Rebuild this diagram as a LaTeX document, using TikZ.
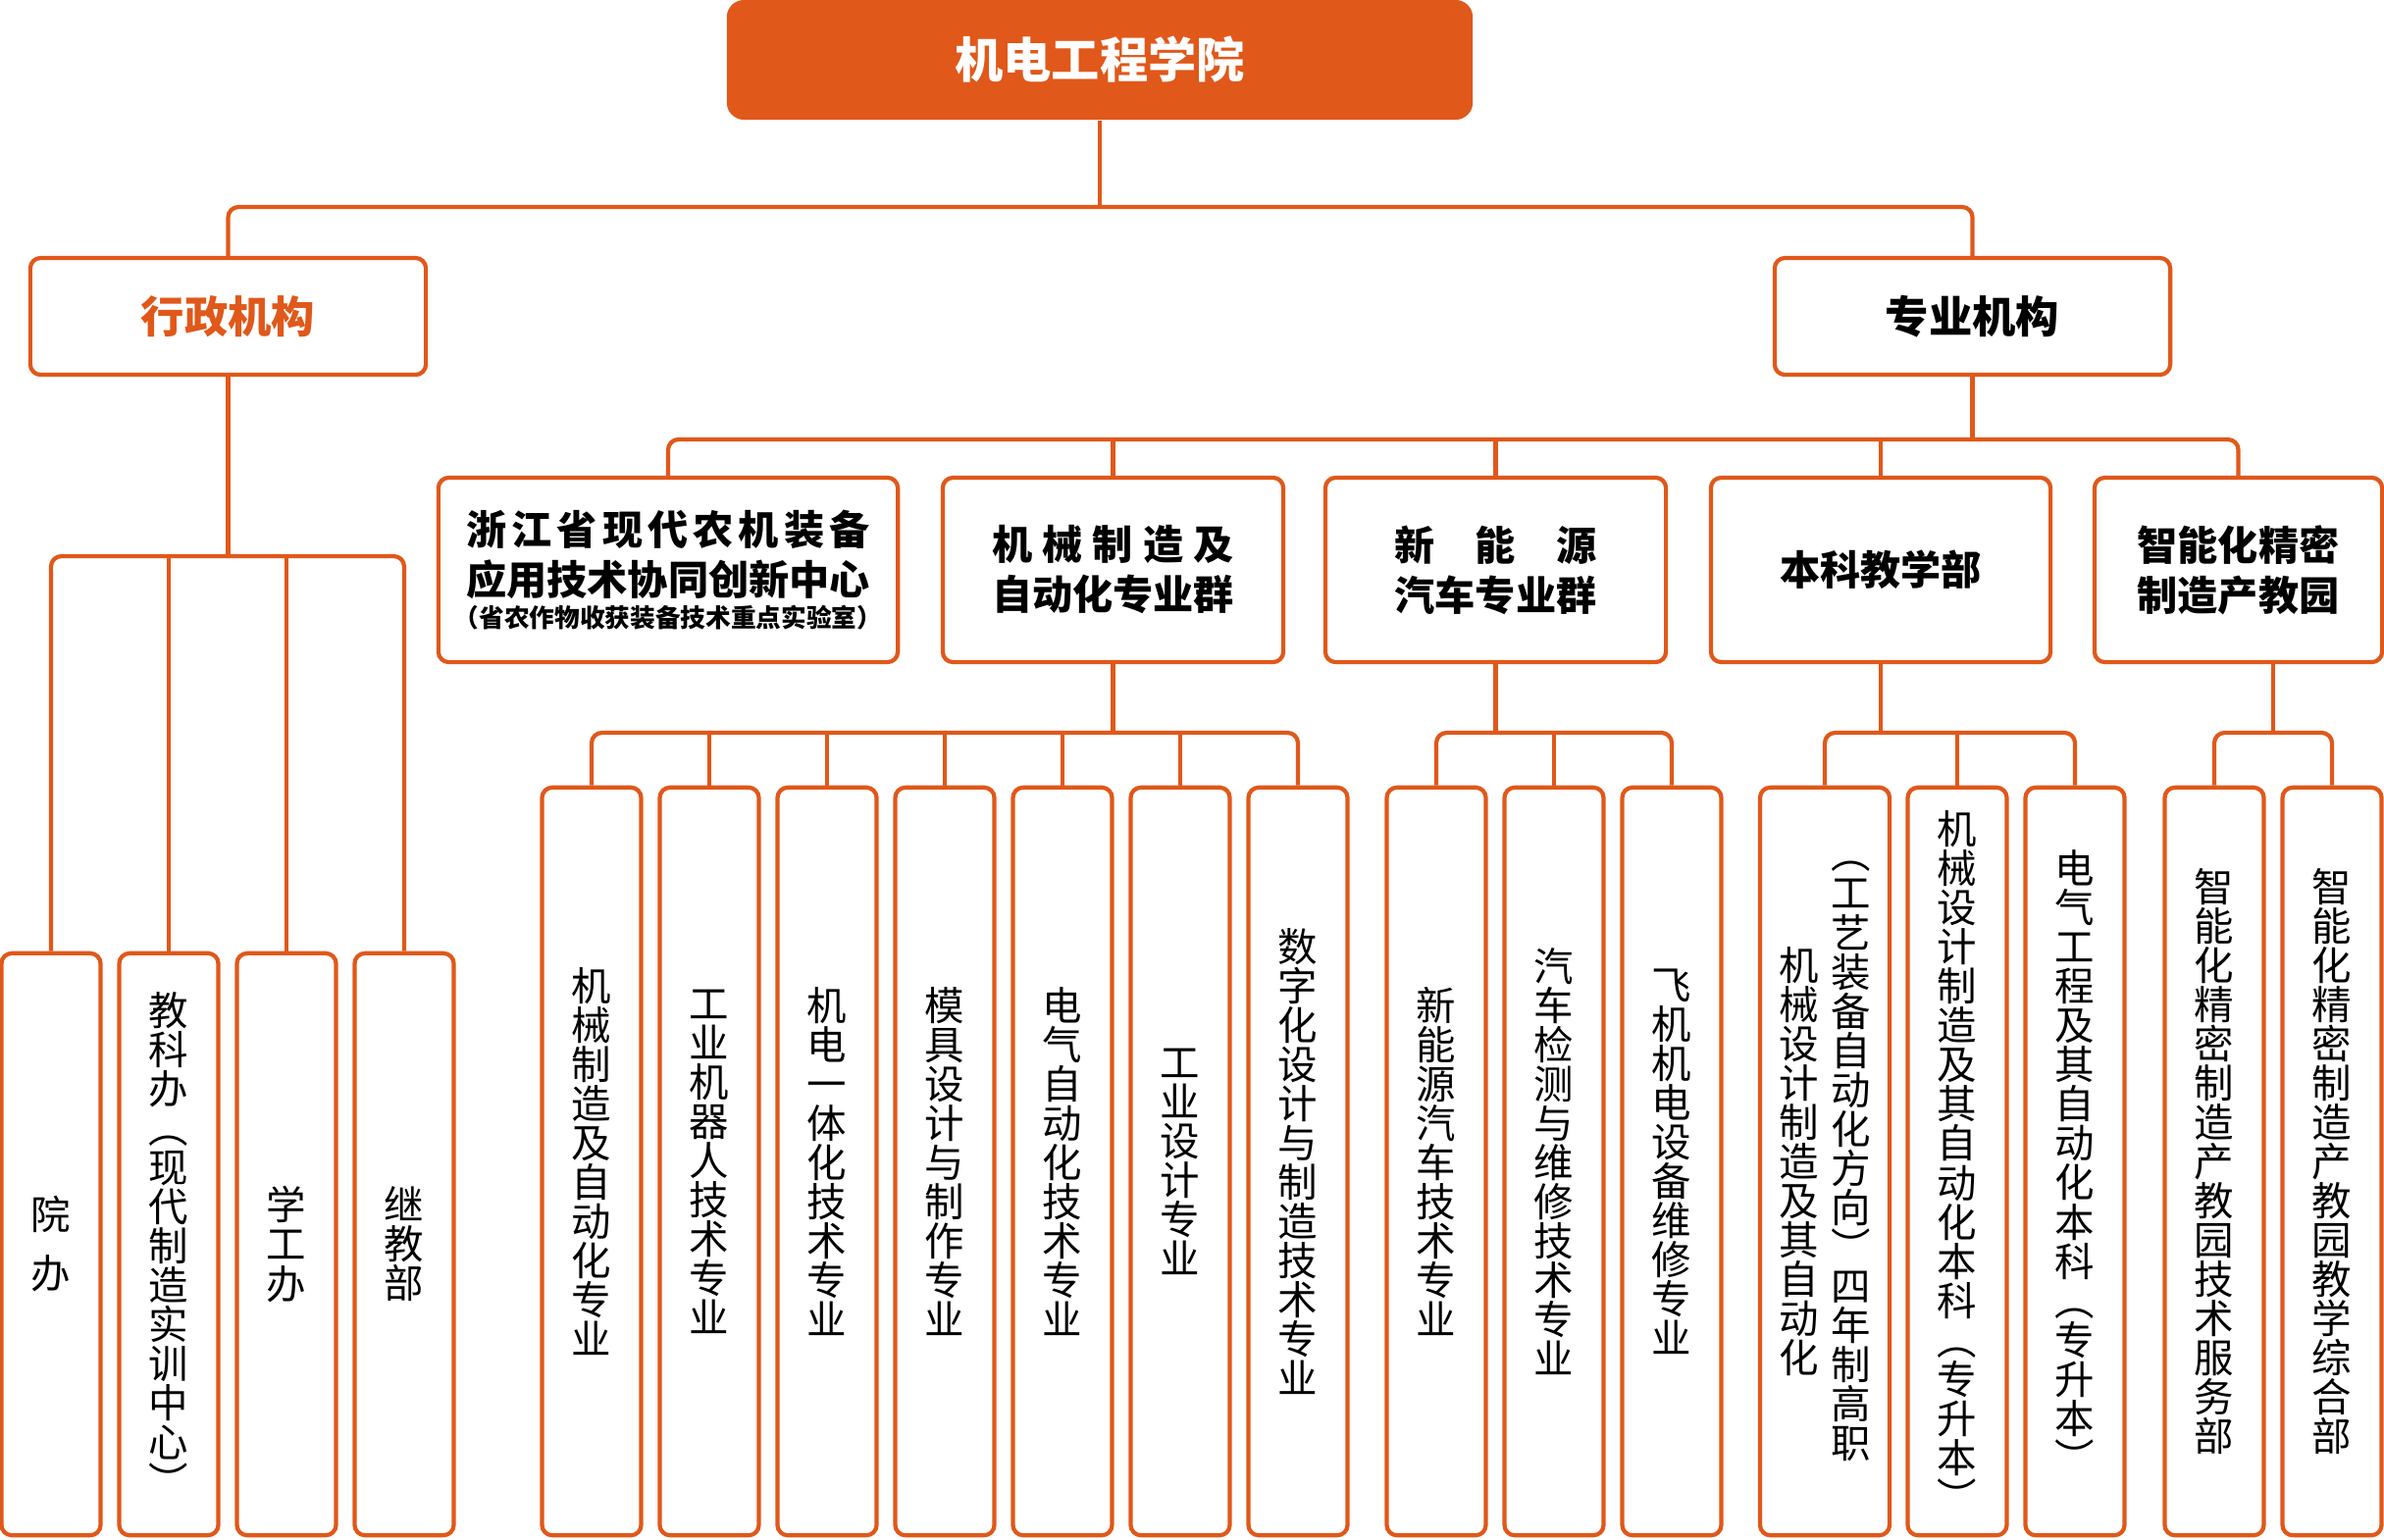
\documentclass[tikz,border=0pt]{standalone}
\usepackage{fontspec}
\setmainfont{Noto Sans CJK SC}
\usepackage{xcolor}
\definecolor{jdorange}{RGB}{224,88,26}

\def\vertextloop#1{\ifx\relax#1\else\hbox to 1em{\hss#1\hss}\expandafter\vertextloop\fi}
\newcommand\vertext[2][0.40cm]{$\vcenter{\baselineskip=#1\relax\lineskiplimit=-\maxdimen\vertextloop#2\relax}$}
\def\spreadloop#1{\ifx\relax#1\unskip\else#1\hfill\expandafter\spreadloop\fi}
\newcommand\spreadline[2]{\makebox[#1][s]{\spreadloop#2\relax}}

\begin{document}
\begin{tikzpicture}[x=0.01cm,y=-0.01cm,
    conn/.style={draw=jdorange,line width=1.2pt,rounded corners=3pt},
    box/.style={draw=jdorange,line width=1.2pt,rounded corners=3pt,inner sep=0pt,fill=white},
    headbox/.style={fill=jdorange,rounded corners=5pt,minimum width=7.6cm,minimum height=1.22cm,text=white,font=\fontsize{14}{16}\selectfont\bfseries},
    catbox/.style={box,minimum width=4.03cm,minimum height=1.19cm,font=\fontsize{12.6}{15}\selectfont\bfseries},
    midbox/.style={box,minimum height=1.88cm,align=center,font=\fontsize{11.7}{14.5}\selectfont\bfseries},
    leaf/.style={box,minimum width=1.01cm,minimum height=7.62cm,font=\fontsize{11.5}{13}\selectfont},
    adleaf/.style={leaf,minimum height=5.93cm}]
    \useasboundingbox (0,0) rectangle (2430,1569);

    \node[headbox] (top) at (1121,61) {机电工程学院};
    \node[catbox,text=jdorange] (admin) at (232.5,322.5) {行政机构};
    \node[catbox] (major) at (2010.5,322.5) {专业机构};

    \node[midbox,minimum width=4.68cm] (lab) at (681,581) {\spreadline{10em}{浙江省现代农机装备}\\应用技术协同创新中心\\[-0.18cm]{\fontsize{7.3}{8}\selectfont （省农作物收获装备技术重点实验室）}};
    \node[midbox,minimum width=3.47cm] (mech) at (1134.5,581) {\spreadline{6em}{机械制造及}\\自动化专业群};
    \node[midbox,minimum width=3.47cm] (nev) at (1524.5,581) {\spreadline{5em}{新能源}\\汽车专业群};
    \node[midbox,minimum width=3.46cm] (ug) at (1917,581) {本科教学部};
    \node[midbox,minimum width=2.93cm] (park) at (2281.5,581) {智能化精密\\制造产教园};

    \node[adleaf] (a1) at (52,1268.5) {\vertext[0.6cm]{院办}};
    \node[adleaf] (a2) at (172,1268.5) {\vertext{教科办︵现代制造实训中心︶}};
    \node[adleaf] (a3) at (292,1268.5) {\vertext{学工办}};
    \node[adleaf] (a4) at (412,1268.5) {\vertext{继教部}};

    \node[leaf] (m1) at (603,1184) {\vertext{机械制造及自动化专业}};
    \node[leaf] (m2) at (723,1184) {\vertext{工业机器人技术专业}};
    \node[leaf] (m3) at (843,1184) {\vertext{机电一体化技术专业}};
    \node[leaf] (m4) at (963,1184) {\vertext{模具设计与制作专业}};
    \node[leaf] (m5) at (1083,1184) {\vertext{电气自动化技术专业}};
    \node[leaf] (m6) at (1203,1184) {\vertext{工业设计专业}};
    \node[leaf] (m7) at (1323,1184) {\vertext{数字化设计与制造技术专业}};

    \node[leaf] (n1) at (1464,1184) {\vertext{新能源汽车技术专业}};
    \node[leaf] (n2) at (1584,1184) {\vertext{汽车检测与维修技术专业}};
    \node[leaf] (n3) at (1704,1184) {\vertext{飞机机电设备维修专业}};

    \node[leaf,minimum width=1.32cm] (u1) at (1860,1184) {\vertext{机械设计制造及其自动化}\hspace{0.13cm}\vertext{︵工艺装备自动化方向︶四年制高职}};
    \node[leaf] (u2) at (1995,1184) {\vertext{机械设计制造及其自动化本科︵专升本︶}};
    \node[leaf] (u3) at (2115,1184) {\vertext{电气工程及其自动化本科︵专升本︶}};

    \node[leaf] (p1) at (2257,1184) {\vertext{智能化精密制造产教园技术服务部}};
    \node[leaf] (p2) at (2377,1184) {\vertext{智能化精密制造产教园教学综合部}};

    \coordinate (bus0) at (0,211);
    \coordinate (bus1) at (0,567);
    \coordinate (bus2) at (0,448);
    \coordinate (bus3) at (0,747);

    \draw[conn] (top.south) -- (top.south |- bus0);
    \draw[conn] (admin.north) |- (major.north |- bus0) -- (major.north);

    \draw[conn] (admin.south) -- (admin.south |- bus1);
    \draw[conn] (a1.north) |- (a4.north |- bus1) -- (a4.north);
    \draw[conn] (a2.north) -- (a2.north |- bus1);
    \draw[conn] (a3.north) -- (a3.north |- bus1);

    \draw[conn] (major.south) -- (major.south |- bus2);
    \draw[conn] (lab.north) |- (park.north |- bus2) -- (park.north);
    \draw[conn] (mech.north) -- (mech.north |- bus2);
    \draw[conn] (nev.north) -- (nev.north |- bus2);
    \draw[conn] (ug.north) -- (ug.north |- bus2);

    \draw[conn] (mech.south) -- (mech.south |- bus3);
    \draw[conn] (m1.north) |- (m7.north |- bus3) -- (m7.north);
    \draw[conn] (m2.north) -- (m2.north |- bus3);
    \draw[conn] (m3.north) -- (m3.north |- bus3);
    \draw[conn] (m4.north) -- (m4.north |- bus3);
    \draw[conn] (m5.north) -- (m5.north |- bus3);
    \draw[conn] (m6.north) -- (m6.north |- bus3);

    \draw[conn] (nev.south) -- (nev.south |- bus3);
    \draw[conn] (n1.north) |- (n3.north |- bus3) -- (n3.north);
    \draw[conn] (n2.north) -- (n2.north |- bus3);

    \draw[conn] (ug.south) -- (ug.south |- bus3);
    \draw[conn] (u1.north) |- (u3.north |- bus3) -- (u3.north);
    \draw[conn] (u2.north) -- (u2.north |- bus3);

    \path (p1.north) -- (p2.north) coordinate[midway] (pmid);
    \draw[conn] (pmid |- park.south) -- (pmid |- bus3);
    \draw[conn] (p1.north) |- (p2.north |- bus3) -- (p2.north);
\end{tikzpicture}
\end{document}
